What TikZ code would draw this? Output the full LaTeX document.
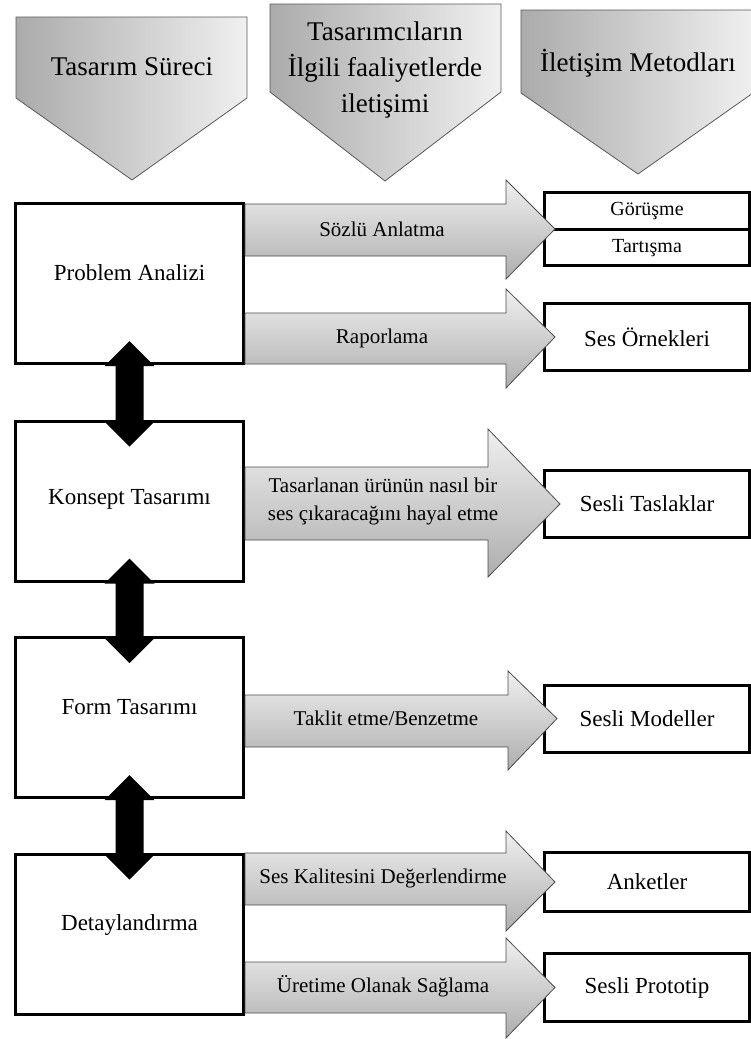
\documentclass[tikz,border=0pt]{standalone}
\usepackage{fontspec}
\setmainfont{Liberation Serif}
\usetikzlibrary{calc,positioning,shapes.multipart}

\begin{document}
\begin{tikzpicture}[x=1pt,y=-1pt]
  \tikzstyle{head}=[draw=black!65,line width=0.8pt,left color=black!33,right color=black!6]
  \tikzstyle{headtext}=[align=center,font=\fontsize{27}{36}\selectfont]
  \tikzstyle{proc}=[rectangle,draw=black,line width=3pt,fill=white,minimum width=228pt,minimum height=160pt,
                    font=\fontsize{23}{28}\selectfont,text height=16pt,text depth=23pt]
  \tikzstyle{meth}=[rectangle,draw=black,line width=3pt,fill=white,minimum width=205pt,minimum height=67pt,
                    font=\fontsize{23}{28}\selectfont]
  \tikzstyle{flow}=[draw=black!70,line width=0.8pt,top color=black!6,bottom color=black!32]
  \tikzstyle{flowtext}=[align=center,font=\fontsize{21}{28}\selectfont]
  \tikzstyle{link}=[fill=black]

  \useasboundingbox (0,0) rectangle (751,1039);

  % column heads
  \draw[head] (16,17) -- (247,17) -- (247,98) -- (132,180) -- (16,98) -- cycle;
  \draw[head] (270,4) -- (501,4) -- (501,92) -- (385,181) -- (270,92) -- cycle;
  \draw[head] (521,10) -- (753,10) -- (753,93) -- (638,174) -- (521,93) -- cycle;
  \node[headtext] (h1) at (132,67)  {Tasarım Süreci};
  \node[headtext] (h2) at (385,70)  {Tasarımcıların\\İlgili faaliyetlerde\\iletişimi};
  \node[headtext] (h3) at (638,63)  {İletişim Metodları};

  % methods
  \node[meth,rectangle split,rectangle split parts=2,minimum height=0pt,inner ysep=7.75pt,
        text height=14pt,text depth=5pt,font=\fontsize{20}{24}\selectfont] (r1) at (647,229)
        {Görüşme\nodepart{two}Tartışma};
  \node[meth] (r2) at (647,337)   {Ses Örnekleri};
  \node[meth] (r3) at (647,504)   {Sesli Taslaklar};
  \node[meth] (r4) at (647,718.5) {Sesli Modeller};
  \node[meth,minimum height=59pt] (r5) at (647,882) {Anketler};
  \node[meth,minimum height=68pt] (r6) at (647,987.5) {Sesli Prototip};

  % design process
  \node[proc] (pa) at (129.5,283.5) {Problem Analizi};
  \node[proc,text depth=9pt] (ka) at (129.5,501) {Konsept Tasarımı};
  \node[proc] (fa) at (129.5,717.5) {Form Tasarımı};
  \node[proc] (da) at (129.5,934) {Detaylandırma};

  % communication arrows
  \draw[flow] (pa.east |- 0,204) -- (506,204) -- (506,180) -- ($(r1.west)+(12,0)$)
              -- (506,279) -- (506,256) -- (pa.east |- 0,256) -- cycle;
  \draw[flow] (pa.east |- 0,313) -- (506,313) -- (506,289) -- ($(r2.west)+(12,0)$)
              -- (506,388) -- (506,364) -- (pa.east |- 0,364) -- cycle;
  \draw[flow] (ka.east |- 0,467) -- (488,467) -- (488,429) -- ($(r3.west)+(17,0)$)
              -- (488,577) -- (488,540) -- (ka.east |- 0,540) -- cycle;
  \draw[flow] (fa.east |- 0,695) -- (508,695) -- (508,671) -- ($(r4.west)+(14,0)$)
              -- (508,770) -- (508,747) -- (fa.east |- 0,747) -- cycle;
  \draw[flow] (da.east |- 0,853) -- (506,853) -- (506,831) -- ($(r5.west)+(12,0)$)
              -- (506,931) -- (506,905) -- (da.east |- 0,905) -- cycle;
  \draw[flow] (da.east |- 0,962) -- (506,962) -- (506,938) -- ($(r6.west)+(12,0)$)
              -- (506,1038) -- (506,1013) -- (da.east |- 0,1013) -- cycle;

  \node[flowtext] (t1) at (382,229) {Sözlü Anlatma};
  \node[flowtext] (t2) at (382,338) {Raporlama};
  \node[flowtext] (t3) at (383,501) {Tasarlanan ürünün nasıl bir\\ses çıkaracağını hayal etme};
  \node[flowtext] (t4) at (386,718) {Taklit etme/Benzetme};
  \node[flowtext] (t5) at (383,878) {Ses Kalitesini Değerlendirme};
  \node[flowtext] (t6) at (383,986) {Üretime Olanak Sağlama};

  % process links
  \fill[link] ($(pa.south)+(0,-24)$) -- ($(pa.south)+(25,1)$) -- ($(pa.south)+(14,1)$)
              -- ($(ka.north)+(14,2)$) -- ($(ka.north)+(25,2)$) -- ($(ka.north)+(0,27)$)
              -- ($(ka.north)+(-25,2)$) -- ($(ka.north)+(-14,2)$) -- ($(pa.south)+(-14,1)$)
              -- ($(pa.south)+(-25,1)$) -- cycle;
  \fill[link] ($(ka.south)+(0,-24)$) -- ($(ka.south)+(25,1)$) -- ($(ka.south)+(14,1)$)
              -- ($(fa.north)+(14,2)$) -- ($(fa.north)+(25,2)$) -- ($(fa.north)+(0,27)$)
              -- ($(fa.north)+(-25,2)$) -- ($(fa.north)+(-14,2)$) -- ($(ka.south)+(-14,1)$)
              -- ($(ka.south)+(-25,1)$) -- cycle;
  \fill[link] ($(fa.south)+(0,-24)$) -- ($(fa.south)+(25,1)$) -- ($(fa.south)+(14,1)$)
              -- ($(da.north)+(14,2)$) -- ($(da.north)+(25,2)$) -- ($(da.north)+(0,27)$)
              -- ($(da.north)+(-25,2)$) -- ($(da.north)+(-14,2)$) -- ($(fa.south)+(-14,1)$)
              -- ($(fa.south)+(-25,1)$) -- cycle;
\end{tikzpicture}
\end{document}
